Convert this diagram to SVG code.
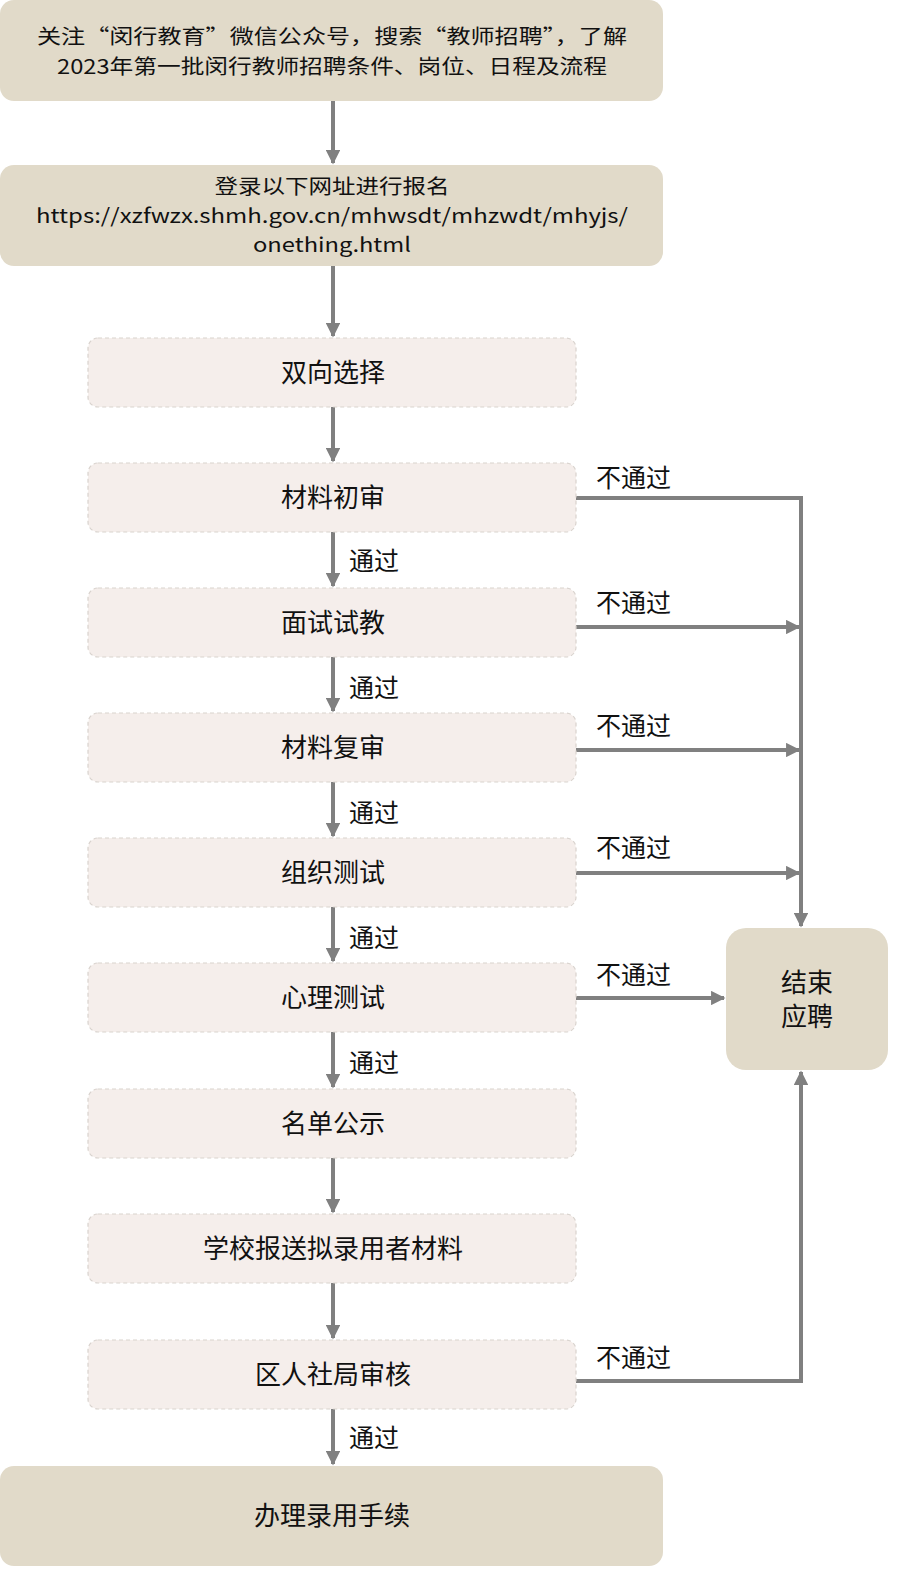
<svg xmlns="http://www.w3.org/2000/svg" width="897" height="1580" viewBox="0 0 897 1580">
<style>
.main{fill:#e1dac9;}
.step{fill:#f5eeeb;stroke:#d9d3ce;stroke-width:1.2;stroke-dasharray:4 3;}
.t{font-family:"Noto Sans CJK SC","Noto Sans",sans-serif;font-size:26px;fill:#111;text-anchor:middle;}
.h{font-family:"Noto Sans CJK SC","Noto Sans",sans-serif;font-size:20px;fill:#111;text-anchor:middle;}
.s{font-family:"Noto Sans CJK SC","Noto Sans",sans-serif;font-size:25px;fill:#111;}
.c{stroke:#808080;stroke-width:4;fill:none;}
</style>
<defs>
<marker id="ah" viewBox="0 0 10 10" refX="9" refY="5" markerWidth="4" markerHeight="3.6" orient="auto" markerUnits="strokeWidth">
<path d="M0,0 L10,5 L0,10 z" fill="#808080"/>
</marker>
</defs>
<rect width="897" height="1580" fill="#ffffff"/>
<g id="connectors">
<line class="c" x1="333" y1="101" x2="333" y2="163" marker-end="url(#ah)"/>
<line class="c" x1="333" y1="266" x2="333" y2="336" marker-end="url(#ah)"/>
<line class="c" x1="333" y1="407" x2="333" y2="461" marker-end="url(#ah)"/>
<line class="c" x1="333" y1="532" x2="333" y2="586" marker-end="url(#ah)"/>
<line class="c" x1="333" y1="657" x2="333" y2="711" marker-end="url(#ah)"/>
<line class="c" x1="333" y1="782" x2="333" y2="836" marker-end="url(#ah)"/>
<line class="c" x1="333" y1="907" x2="333" y2="961" marker-end="url(#ah)"/>
<line class="c" x1="333" y1="1032" x2="333" y2="1087" marker-end="url(#ah)"/>
<line class="c" x1="333" y1="1158" x2="333" y2="1212" marker-end="url(#ah)"/>
<line class="c" x1="333" y1="1283" x2="333" y2="1338" marker-end="url(#ah)"/>
<line class="c" x1="333" y1="1409" x2="333" y2="1464" marker-end="url(#ah)"/>
<polyline class="c" points="576,498 801,498 801,926" marker-end="url(#ah)"/>
<line class="c" x1="576" y1="627" x2="799" y2="627" marker-end="url(#ah)"/>
<line class="c" x1="576" y1="750" x2="799" y2="750" marker-end="url(#ah)"/>
<line class="c" x1="576" y1="873" x2="799" y2="873" marker-end="url(#ah)"/>
<line class="c" x1="576" y1="998" x2="724" y2="998" marker-end="url(#ah)"/>
<polyline class="c" points="576,1381 801,1381 801,1072" marker-end="url(#ah)"/>
<text class="s" x="596" y="487">不通过</text>
<text class="s" x="596" y="612">不通过</text>
<text class="s" x="596" y="735">不通过</text>
<text class="s" x="596" y="857">不通过</text>
<text class="s" x="596" y="984">不通过</text>
<text class="s" x="596" y="1367">不通过</text>
<text class="s" x="349" y="570">通过</text>
<text class="s" x="349" y="697">通过</text>
<text class="s" x="349" y="822">通过</text>
<text class="s" x="349" y="947">通过</text>
<text class="s" x="349" y="1072">通过</text>
<text class="s" x="349" y="1447">通过</text>
</g>
<g id="n1"><rect class="main" x="0" y="0" width="663" height="101" rx="14"/>
<text class="h" x="332" y="44" textLength="590" lengthAdjust="spacingAndGlyphs">关注“闵行教育”微信公众号，搜索“教师招聘”，了解</text>
<text class="h" x="332" y="74" textLength="550" lengthAdjust="spacingAndGlyphs">2023年第一批闵行教师招聘条件、岗位、日程及流程</text></g>
<g id="n2"><rect class="main" x="0" y="165" width="663" height="101" rx="14"/>
<text class="h" x="332" y="194" textLength="235" lengthAdjust="spacingAndGlyphs">登录以下网址进行报名</text>
<text class="h" x="332" y="223" textLength="592" lengthAdjust="spacingAndGlyphs">https://xzfwzx.shmh.gov.cn/mhwsdt/mhzwdt/mhyjs/</text>
<text class="h" x="332" y="252" textLength="158" lengthAdjust="spacingAndGlyphs">onething.html</text></g>
<g id="n3"><rect class="step" x="88" y="338" width="488" height="69" rx="10"/><text class="t" x="333" y="382">双向选择</text></g>
<g id="n4"><rect class="step" x="88" y="463" width="488" height="69" rx="10"/><text class="t" x="333" y="507">材料初审</text></g>
<g id="n5"><rect class="step" x="88" y="588" width="488" height="69" rx="10"/><text class="t" x="333" y="632">面试试教</text></g>
<g id="n6"><rect class="step" x="88" y="713" width="488" height="69" rx="10"/><text class="t" x="333" y="757">材料复审</text></g>
<g id="n7"><rect class="step" x="88" y="838" width="488" height="69" rx="10"/><text class="t" x="333" y="882">组织测试</text></g>
<g id="n8"><rect class="step" x="88" y="963" width="488" height="69" rx="10"/><text class="t" x="333" y="1007">心理测试</text></g>
<g id="n9"><rect class="step" x="88" y="1089" width="488" height="69" rx="10"/><text class="t" x="333" y="1133">名单公示</text></g>
<g id="n10"><rect class="step" x="88" y="1214" width="488" height="69" rx="10"/><text class="t" x="333" y="1258">学校报送拟录用者材料</text></g>
<g id="n11"><rect class="step" x="88" y="1340" width="488" height="69" rx="10"/><text class="t" x="333" y="1384">区人社局审核</text></g>
<g id="n12"><rect class="main" x="0" y="1466" width="663" height="100" rx="14"/><text class="t" x="332" y="1525">办理录用手续</text></g>
<g id="n13"><rect class="main" x="726" y="928" width="162" height="142" rx="20"/>
<text class="t" x="807" y="992">结束</text><text class="t" x="807" y="1026">应聘</text></g>
</svg>
